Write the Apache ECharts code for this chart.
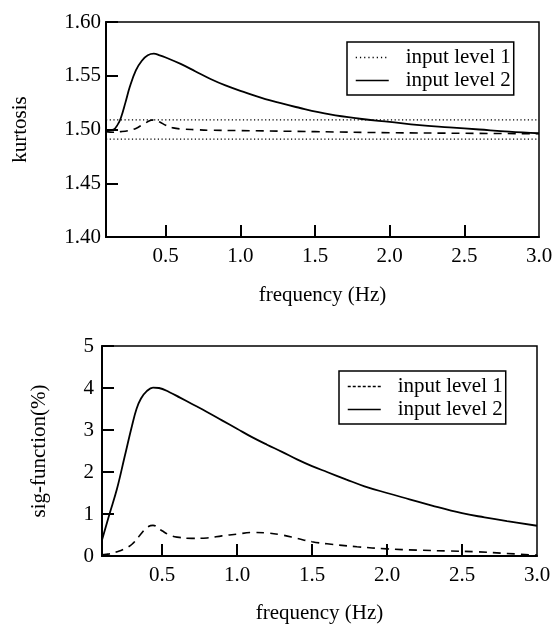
<!DOCTYPE html>
<html><head><meta charset="utf-8">
<script src="https://cdn.jsdelivr.net/npm/echarts@6/dist/echarts.min.js"></script>
<style>html,body{margin:0;padding:0;background:#fff}#c{width:560px;height:627px}</style>
</head><body><div id="c"></div>
<script>
const FONT = 'Liberation Serif';

// x axis (frequency, Hz)
const freqLabels = [0.5, 1.0, 1.5, 2.0, 2.5, 3.0];
const freqTicks = [0.5, 1.0, 1.5, 2.0, 2.5];

// Top panel: kurtosis
const kurtFreq2 = [0.1,0.15,0.18,0.2,0.23,0.26,0.3,0.34,0.38,0.42,0.46,0.5,0.6,0.7,0.8,0.9,1.0,1.2,1.4,1.6,1.8,2.0,2.2,2.4,2.6,2.8,3.0];
const kurtLevel2 = [1.499,1.500,1.505,1.511,1.525,1.540,1.555,1.564,1.569,1.5705,1.569,1.567,1.561,1.554,1.547,1.541,1.536,1.527,1.520,1.514,1.510,1.507,1.504,1.502,1.500,1.498,1.4965];
const kurtFreq1 = [0.1,0.15,0.2,0.25,0.3,0.35,0.4,0.42,0.46,0.5,0.55,0.6,0.7,0.8,1.0,1.5,2.0,2.5,3.0];
const kurtLevel1 = [1.498,1.4975,1.498,1.499,1.501,1.505,1.5085,1.509,1.507,1.504,1.5015,1.5005,1.4998,1.4993,1.499,1.498,1.497,1.4965,1.496];
const kurtBoundFreq = [0.1, 3.0];
const kurtUpper = [1.509, 1.509];
const kurtLower = [1.491, 1.491];

// Bottom panel: sig-function (%)
const sigFreq2 = [0.1,0.15,0.2,0.25,0.3,0.33,0.36,0.4,0.44,0.48,0.55,0.62,0.7,0.8,0.9,1.0,1.1,1.2,1.3,1.4,1.5,1.6,1.73,1.85,2.0,2.15,2.3,2.5,2.65,2.8,3.0];
const sigLevel2 = [0.38,1.0,1.6,2.35,3.1,3.5,3.75,3.93,4.01,4.0,3.9,3.77,3.62,3.43,3.23,3.03,2.83,2.65,2.48,2.3,2.14,2.0,1.82,1.66,1.5,1.35,1.2,1.02,0.92,0.83,0.72];
const sigFreq1 = [0.1,0.15,0.2,0.25,0.3,0.35,0.4,0.44,0.5,0.55,0.6,0.7,0.8,0.9,1.0,1.1,1.2,1.3,1.4,1.5,1.6,1.8,2.0,2.2,2.4,2.6,2.8,3.0];
const sigLevel1 = [0.03,0.05,0.1,0.17,0.28,0.48,0.68,0.73,0.6,0.5,0.45,0.42,0.43,0.48,0.52,0.56,0.55,0.5,0.42,0.34,0.29,0.22,0.17,0.14,0.12,0.1,0.06,0.02];

const seriesNames = ['input level 1', 'input level 2'];
const pair = (xs, ys) => xs.map((x, i) => [x, ys[i]]);

const black = '#000';
const tickLabel = {fontFamily: FONT, fontSize: 21, color: black};
const hiddenSymbol = {color: 'rgba(0,0,0,0)', borderWidth: 0, opacity: 0};

function xAxisCfg(gridIndex, nameGap) {
  return {
    type: 'value', gridIndex, min: 0.1, max: 3.0,
    name: 'frequency (Hz)', nameLocation: 'middle', nameGap,
    nameTextStyle: {fontFamily: FONT, fontSize: 21, color: black},
    axisLine: {show: true, lineStyle: {color: black, width: 2}},
    axisTick: {show: true, inside: true, length: 12, lineStyle: {color: black, width: 2}, customValues: freqTicks},
    axisLabel: Object.assign({margin: 9, customValues: freqLabels, formatter: v => v.toFixed(1)}, tickLabel),
    splitLine: {show: false}
  };
}

const legendBase = {
  orient: 'vertical', backgroundColor: '#fff', borderColor: black, borderWidth: 1.5, borderRadius: 0,
  padding: [5, 3, 4, 8], itemWidth: 33, itemHeight: 14, itemGap: 2,
  selectedMode: false,
  textStyle: {fontFamily: FONT, fontSize: 21, color: black, padding: [0, 0, 0, 12]}
};

const option = {
  backgroundColor: '#fff',
  animation: false,
  grid: [
    {left: 106, top: 22, width: 433, height: 215, show: true, borderColor: black, borderWidth: 1.5, backgroundColor: 'transparent'},
    {left: 102, top: 346, width: 435, height: 210, show: true, borderColor: black, borderWidth: 1.5, backgroundColor: 'transparent'}
  ],
  xAxis: [xAxisCfg(0, 48), xAxisCfg(1, 47)],
  yAxis: [
    {
      type: 'value', gridIndex: 0, min: 1.40, max: 1.60, interval: 0.05,
      name: 'kurtosis', nameLocation: 'middle', nameGap: 75, nameRotate: 90,
      nameTextStyle: {fontFamily: FONT, fontSize: 21, color: black},
      axisLine: {show: true, lineStyle: {color: black, width: 2}},
      axisTick: {show: true, inside: true, length: 12, lineStyle: {color: black, width: 2}},
      axisLabel: Object.assign({margin: 5, formatter: v => v.toFixed(2)}, tickLabel),
      splitLine: {show: false}
    },
    {
      type: 'value', gridIndex: 1, min: 0, max: 5, interval: 1,
      name: 'sig-function(%)', nameLocation: 'middle', nameGap: 52, nameRotate: 90,
      nameTextStyle: {fontFamily: FONT, fontSize: 21, color: black},
      axisLine: {show: true, lineStyle: {color: black, width: 2}},
      axisTick: {show: true, inside: true, length: 12, lineStyle: {color: black, width: 2}},
      axisLabel: Object.assign({margin: 8}, tickLabel),
      splitLine: {show: false}
    }
  ],
  legend: [
    Object.assign({}, legendBase, {left: 347, top: 42, data: [
      {name: seriesNames[0], itemStyle: hiddenSymbol, lineStyle: {type: [1.2, 3], width: 1.3, color: black}},
      {name: seriesNames[1], itemStyle: hiddenSymbol, lineStyle: {type: 'solid', width: 1.5, color: black}}
    ]}),
    Object.assign({}, legendBase, {left: 339, top: 371, data: [
      {name: seriesNames[0], itemStyle: hiddenSymbol, lineStyle: {type: [3, 2], width: 1.3, color: black}},
      {name: seriesNames[1], itemStyle: hiddenSymbol, lineStyle: {type: 'solid', width: 1.5, color: black}}
    ]})
  ],
  series: [
    {name: 'upper bound', type: 'line', xAxisIndex: 0, yAxisIndex: 0, data: pair(kurtBoundFreq, kurtUpper), symbol: 'none', silent: true, lineStyle: {color: black, width: 1.3, type: [1.2, 2.5]}},
    {name: 'lower bound', type: 'line', xAxisIndex: 0, yAxisIndex: 0, data: pair(kurtBoundFreq, kurtLower), symbol: 'none', silent: true, lineStyle: {color: black, width: 1.3, type: [1.2, 2.5]}},
    {name: seriesNames[0], type: 'line', xAxisIndex: 0, yAxisIndex: 0, data: pair(kurtFreq1, kurtLevel1), symbol: 'none', smooth: 0.4, color: black, lineStyle: {color: black, width: 1.6, type: [8, 6]}},
    {name: seriesNames[1], type: 'line', xAxisIndex: 0, yAxisIndex: 0, data: pair(kurtFreq2, kurtLevel2), symbol: 'none', smooth: 0.4, color: black, lineStyle: {color: black, width: 1.8}},
    {name: seriesNames[0], type: 'line', xAxisIndex: 1, yAxisIndex: 1, data: pair(sigFreq1, sigLevel1), symbol: 'none', smooth: 0.4, color: black, lineStyle: {color: black, width: 1.6, type: [8, 6]}},
    {name: seriesNames[1], type: 'line', xAxisIndex: 1, yAxisIndex: 1, data: pair(sigFreq2, sigLevel2), symbol: 'none', smooth: 0.4, color: black, lineStyle: {color: black, width: 1.8}}
  ]
};

const chart = echarts.init(document.getElementById('c'), null, {renderer: 'canvas'});
chart.setOption(option);
</script>
</body></html>
